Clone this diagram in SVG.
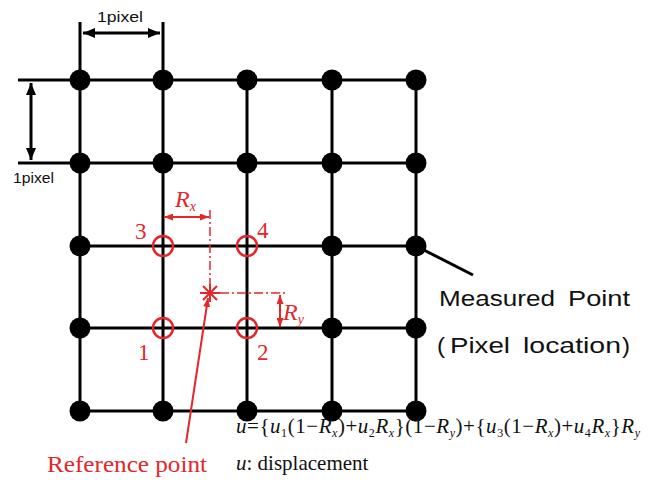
<svg xmlns="http://www.w3.org/2000/svg" width="655" height="486" viewBox="0 0 655 486">
<style>
.g{stroke:#000;stroke-width:3;fill:none}
.d{fill:#000}
.rc{stroke:#e3272b;stroke-width:2.5;fill:none}
.rl{stroke:#e3272b;stroke-width:2;fill:none}
.dd{stroke:#e3272b;stroke-width:1.5;stroke-dasharray:9 3 2 3;fill:none}
.px{font-family:"Liberation Sans",Arial,sans-serif;font-size:15px;fill:#111}
.mp{font-family:"Liberation Sans",Arial,sans-serif;font-size:22px;fill:#111}
.rt{font-family:"Liberation Serif","Times New Roman",serif;fill:#e3272b}
.f{font-family:"Liberation Serif","Times New Roman",serif;font-size:21px;fill:#111}
.i{font-style:italic}
.s{font-size:12px}
</style>
<defs>
<marker id="ab" viewBox="0 0 12 10" refX="12" refY="5" markerWidth="12" markerHeight="10" markerUnits="userSpaceOnUse" orient="auto-start-reverse"><path d="M0,0 L12,5 L0,10 Z" fill="#000"/></marker>
<marker id="ar" viewBox="0 0 9 7" refX="9" refY="3.5" markerWidth="9" markerHeight="7" markerUnits="userSpaceOnUse" orient="auto-start-reverse"><path d="M0,0 L9,3.5 L0,7 Z" fill="#e3272b"/></marker>
</defs>
<g id="grid">
<path class="g" d="M18,80H416M18,163H416M80,246H416M80,328H416M80,411H416M80,22V411M163,22V411M247,80V411M332,80V411M416,80V411"/>
</g>
<g id="points">
<circle class="d" cx="80" cy="80" r="10.5"/><circle class="d" cx="163" cy="80" r="10.5"/><circle class="d" cx="247" cy="80" r="10.5"/><circle class="d" cx="332" cy="80" r="10.5"/><circle class="d" cx="416" cy="80" r="10.5"/>
<circle class="d" cx="80" cy="163" r="10.5"/><circle class="d" cx="163" cy="163" r="10.5"/><circle class="d" cx="247" cy="163" r="10.5"/><circle class="d" cx="332" cy="163" r="10.5"/><circle class="d" cx="416" cy="163" r="10.5"/>
<circle class="d" cx="80" cy="246" r="10.5"/><circle class="d" cx="332" cy="246" r="10.5"/><circle class="d" cx="416" cy="246" r="10.5"/>
<circle class="d" cx="80" cy="328" r="10.5"/><circle class="d" cx="332" cy="328" r="10.5"/><circle class="d" cx="416" cy="328" r="10.5"/>
<circle class="d" cx="80" cy="411" r="10.5"/><circle class="d" cx="163" cy="411" r="10.5"/><circle class="d" cx="247" cy="411" r="10.5"/><circle class="d" cx="332" cy="411" r="10.5"/><circle class="d" cx="416" cy="411" r="10.5"/>
</g>
<g id="neighbours">
<circle class="rc" cx="163" cy="246" r="10"/><circle class="rc" cx="247" cy="246" r="10"/><circle class="rc" cx="163" cy="328" r="10"/><circle class="rc" cx="247" cy="328" r="10"/>
<text class="rt" x="135" y="239" font-size="23">3</text>
<text class="rt" x="257" y="238" font-size="23">4</text>
<text class="rt" x="138" y="360" font-size="23">1</text>
<text class="rt" x="257" y="360" font-size="23">2</text>
</g>
<g id="reference-point">
<path class="rl" d="M200,293H220M203,286L217,300M203,300L217,286M210,284V302"/>
<text class="rt" x="47" y="472" font-size="24" textLength="160" lengthAdjust="spacingAndGlyphs">Reference point</text>
</g>
<g id="measured-label">
<text class="mp" x="439" y="306" textLength="116" lengthAdjust="spacingAndGlyphs">Measured</text>
<text class="mp" x="568" y="306" textLength="62" lengthAdjust="spacingAndGlyphs">Point</text>
<text class="mp" x="437" y="353" textLength="8" lengthAdjust="spacingAndGlyphs">(</text>
<text class="mp" x="450" y="353" textLength="60" lengthAdjust="spacingAndGlyphs">Pixel</text>
<text class="mp" x="523" y="353" textLength="98" lengthAdjust="spacingAndGlyphs">location</text>
<text class="mp" x="622" y="353" textLength="8" lengthAdjust="spacingAndGlyphs">)</text>
</g>
<g id="connectors">
<path class="g" d="M83,33H160" marker-start="url(#ab)" marker-end="url(#ab)" stroke-width="2.5"/>
<path class="g" d="M31,83V160" marker-start="url(#ab)" marker-end="url(#ab)" stroke-width="2.5"/>
<path class="g" d="M416,246L473,275" stroke-width="2.5"/>
<path class="dd" d="M210,210V284M220,293H288"/>
<path class="rl" d="M164,217H209" marker-start="url(#ar)" marker-end="url(#ar)"/>
<path class="rl" d="M280,295V327" marker-start="url(#ar)" marker-end="url(#ar)"/>
<path class="rl" d="M186,443L208,298" stroke-width="2.5" marker-end="url(#ar)"/>
</g>
<g id="labels">
<text class="px" x="97" y="22" textLength="46" lengthAdjust="spacingAndGlyphs">1pixel</text>
<text class="px" x="13" y="183" textLength="41" lengthAdjust="spacingAndGlyphs">1pixel</text>
<text class="rt i" x="175" y="207" font-size="24">R<tspan font-size="14" dy="4">x</tspan></text>
<text class="rt i" x="283" y="320" font-size="24">R<tspan font-size="14" dy="4">y</tspan></text>
</g>
<g id="formula">
<text class="f" x="236" y="433" textLength="404" lengthAdjust="spacing"><tspan class="i">u</tspan>={<tspan class="i">u</tspan><tspan class="s" dy="4">1</tspan><tspan dy="-4">(1−</tspan><tspan class="i">R</tspan><tspan class="s i" dy="4">x</tspan><tspan dy="-4">)+</tspan><tspan class="i">u</tspan><tspan class="s" dy="4">2</tspan><tspan class="i" dy="-4">R</tspan><tspan class="s i" dy="4">x</tspan><tspan dy="-4">}(1−</tspan><tspan class="i">R</tspan><tspan class="s i" dy="4">y</tspan><tspan dy="-4">)+{</tspan><tspan class="i">u</tspan><tspan class="s" dy="4">3</tspan><tspan dy="-4">(1−</tspan><tspan class="i">R</tspan><tspan class="s i" dy="4">x</tspan><tspan dy="-4">)+</tspan><tspan class="i">u</tspan><tspan class="s" dy="4">4</tspan><tspan class="i" dy="-4">R</tspan><tspan class="s i" dy="4">x</tspan><tspan dy="-4">}</tspan><tspan class="i">R</tspan><tspan class="s i" dy="4">y</tspan></text>
<text class="f" x="236" y="470" font-size="20"><tspan class="i">u</tspan>: displacement</text>
</g>
</svg>
